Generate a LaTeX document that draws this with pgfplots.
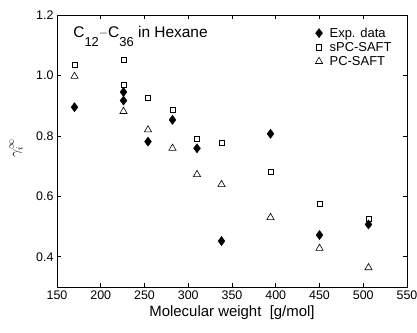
\documentclass[border=0pt]{standalone}
\usepackage{pgfplots}
\pgfplotsset{compat=1.18}
\usepackage{fontspec}
\setmainfont{Liberation Sans}
\begin{document}
\begin{tikzpicture}
\begin{axis}[
  scale only axis,
  width=350bp, height=272bp,
  xmin=150, xmax=550, ymin=0.3, ymax=1.2,
  xtick={150,200,...,550},
  ytick={0.4,0.6,0.8,1.0,1.2},
  yticklabel style={/pgf/number format/.cd,fixed,fixed zerofill,precision=1},
  /pgf/number format/assume math mode=true,
  tick align=inside,
  tick pos=both,
  major tick length=4bp,
  axis line style={line width=0.9pt},
  tick style={line width=0.6pt, black},
  ticklabel style={font=\fontsize{12.5}{14}\selectfont},
  xlabel={Molecular weight\ \ [g/mol]},
  xlabel style={font=\fontsize{15}{17}\selectfont, yshift=1bp},
  ylabel={$\gamma_i^{\infty}$},
  ylabel style={font=\fontsize{14}{16}\selectfont, at={(rel axis cs:-0.117,0.51)}, anchor=center},
  legend style={draw=none, fill=none, at={(rel axis cs:0.965,0.965)}, anchor=north east,
    font=\fontsize{13}{14}\selectfont, row sep=-0.5bp, column sep=5bp, inner sep=1bp},
  legend cell align=left,
]
\addplot[only marks, mark=diamond*, mark size=4.6pt, mark options={fill=black, draw=black}] coordinates {
(170,0.895) (226,0.945) (226,0.917) (254,0.781) (282,0.853) (310,0.759) (338,0.452) (394,0.807) (450,0.472) (506,0.507)
};
\addlegendentry{Exp. data}
\addplot[only marks, mark=square, mark size=2.6pt, mark options={line width=0.6pt, draw=black}] coordinates {
(170,1.035) (226,1.051) (226,0.970) (254,0.926) (282,0.887) (310,0.791) (338,0.777) (394,0.681) (450,0.576) (506,0.525)
};
\addlegendentry{sPC-SAFT}
\addplot[only marks, mark=triangle, mark size=4.2pt, mark options={line width=0.6pt, draw=black}] coordinates {
(170,0.997) (226,0.881) (254,0.820) (282,0.759) (310,0.672) (338,0.639) (394,0.530) (450,0.428) (506,0.364)
};
\addlegendentry{PC-SAFT}
\node[anchor=base west, font=\fontsize{15.5}{17}\selectfont, inner sep=0pt] at (axis cs:168.5,1.127) {C\raisebox{-0.6em}{\fontsize{13}{13}\selectfont 12}\raisebox{0.05em}{\fontsize{13}{13}\selectfont $-$}C\raisebox{-0.6em}{\fontsize{13}{13}\selectfont 36} in Hexane};
\end{axis}
\pgfresetboundingbox
\path (current axis.south west) ++(-57bp,-46bp) rectangle ++(417bp,333bp);
\end{tikzpicture}
\end{document}
